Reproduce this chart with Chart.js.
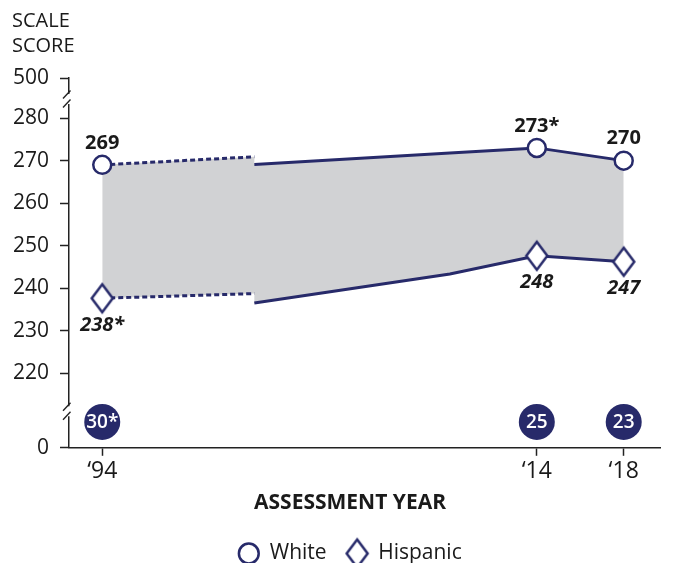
<!DOCTYPE html>
<html><head><meta charset="utf-8">
<script src="https://cdn.jsdelivr.net/npm/chart.js@4.4.0/dist/chart.umd.min.js"></script>
<style>html,body{margin:0;padding:0;background:#fff}</style>
</head><body>
<canvas id="c" width="678" height="569"></canvas>
<script>
// ---------- data ----------
const labeledYears = [1994, 2014, 2018];
const yearTickLabels = ['\u201894', '\u201814', '\u201818'];
// 1994 and 2001 (accommodations not permitted, dashed)
const earlyYears = [1994, 2001];
const whiteEarly = [269, 270.9];
const hispanicEarly = [237.6, 238.7];
// 2001 onward (accommodations permitted, solid)
const lateYears = [2001, 2010, 2014, 2018];
const whiteLate = [269.1, 271.8, 273, 270];
const hispanicLate = [236.5, 243.3, 247.6, 246.2];
const whiteLabels = ['269', '273*', '270'];
const hispanicLabels = ['238*', '248', '247'];
const gapYears = [1994, 2014, 2018];
const gapLabels = ['30*', '25', '23'];
const yTickValues = [220, 230, 240, 250, 260, 270, 280];
const yTickLabels = ['0', '220', '230', '240', '250', '260', '270', '280', '500'];

// ---------- scale settings ----------
const Y_MIN = 202.4, Y_MAX = 289.45;   // axis break: bottom shows 0, top shows 500
const GAP_ROW = 208.5;
const BREAK_HIGH = 284.5, BREAK_LOW = 211;
const X_MIN = 1992.47, X_MAX = 2019.67;
const NAVY = '#272a6a';
const GRAY = '#d1d2d4';
const FONT = '"Open Sans", "Noto Sans", sans-serif';
const TEXT = '#1a1a1a';

// diamond marker (taller than wide)
const diamond = document.createElement('canvas');
diamond.width = 26; diamond.height = 34;
(function () {
  const g = diamond.getContext('2d');
  g.beginPath();
  g.moveTo(13, 3); g.lineTo(23.5, 17); g.lineTo(13, 31); g.lineTo(2.5, 17); g.closePath();
  g.fillStyle = '#fff'; g.fill();
  g.lineWidth = 2.5; g.strokeStyle = NAVY; g.lineJoin = 'miter'; g.stroke();
})();

const pts = (xs, ys) => xs.map((x, i) => ({ x: x, y: ys[i] }));
const markerRadius = c => (c.raw && labeledYears.includes(c.raw.x)) ? 9 : 0;

const common = {
  type: 'line', borderColor: NAVY, borderWidth: 3, tension: 0, fill: false,
  pointBorderColor: NAVY, pointBackgroundColor: '#fff', pointBorderWidth: 2.5,
  pointRadius: markerRadius, pointHoverRadius: markerRadius
};
const envelope = {
  type: 'line', showLine: false, pointRadius: 0, pointHoverRadius: 0, borderWidth: 0,
  backgroundColor: GRAY, tension: 0
};

const datasets = [
  Object.assign({}, common, { label: 'White (early)', data: pts(earlyYears, whiteEarly), borderDash: [5, 3],
    pointStyle: 'circle', valueLabels: whiteLabels, labelOffset: -22, labelFont: 'bold 20px ' + FONT }),
  Object.assign({}, common, { label: 'Hispanic (early)', data: pts(earlyYears, hispanicEarly), borderDash: [5, 3],
    pointStyle: diamond, valueLabels: hispanicLabels, labelOffset: 27, labelFont: 'italic bold 20px ' + FONT }),
  Object.assign({}, common, { label: 'White', data: pts(lateYears, whiteLate),
    pointStyle: 'circle', valueLabels: whiteLabels, labelOffset: -22, labelFont: 'bold 20px ' + FONT }),
  Object.assign({}, common, { label: 'Hispanic', data: pts(lateYears, hispanicLate),
    pointStyle: diamond, valueLabels: hispanicLabels, labelOffset: 27, labelFont: 'italic bold 20px ' + FONT }),
  { type: 'line', label: 'Gap', data: gapYears.map(x => ({ x: x, y: GAP_ROW })), showLine: false, fill: false,
    pointRadius: 18, pointHoverRadius: 18, pointBackgroundColor: NAVY, pointBorderWidth: 0, gapText: gapLabels },
  // shaded gap area between the two groups (built from the same arrays)
  Object.assign({}, envelope, { label: 'band-top', data: pts(earlyYears, whiteEarly).concat(pts(lateYears, whiteLate)), fill: { target: 6 } }),
  Object.assign({}, envelope, { label: 'band-bottom', data: pts(earlyYears, hispanicEarly).concat(pts(lateYears, hispanicLate)), fill: false })
];

const labelPlugin = {
  id: 'valueLabels',
  afterDatasetsDraw(chart) {
    const ctx = chart.ctx;
    chart.data.datasets.forEach((ds, i) => {
      const meta = chart.getDatasetMeta(i);
      ds.data.forEach((d, j) => {
        const el = meta.data[j];
        ctx.save();
        ctx.textAlign = 'center'; ctx.textBaseline = 'middle';
        if (ds.gapText) {
          ctx.font = '600 19px ' + FONT; ctx.fillStyle = '#fff';
          ctx.fillText(ds.gapText[j], el.x, el.y + 1);
        } else if (ds.valueLabels) {
          const k = labeledYears.indexOf(d.x);
          if (k >= 0) {
            ctx.font = ds.labelFont; ctx.fillStyle = TEXT;
            ctx.fillText(ds.valueLabels[k], el.x, el.y + ds.labelOffset);
          }
        }
        ctx.restore();
      });
    });
  }
};

const decorPlugin = {
  id: 'decor',
  afterDraw(chart) {
    const ctx = chart.ctx, y = chart.scales.y;
    const ax = chart.chartArea.left;
    ctx.save();
    [BREAK_HIGH, BREAK_LOW].forEach(v => {
      const c = y.getPixelForValue(v);
      ctx.fillStyle = '#fff';
      ctx.fillRect(ax - 3, c - 5, 6, 10);
      ctx.strokeStyle = '#222'; ctx.lineWidth = 1.4;
      [-4.5, 4.5].forEach(o => {
        ctx.beginPath();
        ctx.moveTo(ax - 6, c + o + 4);
        ctx.lineTo(ax + 1.5, c + o - 4);
        ctx.stroke();
      });
    });
    ctx.fillStyle = TEXT; ctx.font = '20px ' + FONT;
    ctx.textAlign = 'left'; ctx.textBaseline = 'alphabetic';
    ctx.fillText('SCALE', 12, 27);
    ctx.fillText('SCORE', 12, 52);
    ctx.restore();
  }
};

new Chart(document.getElementById('c'), {
  type: 'line',
  data: { datasets: datasets },
  options: {
    responsive: false, animation: false,
    layout: { padding: { top: 78, left: 27, right: 5, bottom: 6 } },
    scales: {
      x: {
        type: 'linear', min: X_MIN, max: X_MAX,
        afterBuildTicks: s => { s.ticks = labeledYears.map(v => ({ value: v })); },
        afterFit: s => { s.height = 40; },
        ticks: { callback: (v, i) => yearTickLabels[i], font: { family: FONT, size: 23 }, color: TEXT, padding: 2, autoSkip: false, maxRotation: 0 },
        grid: { drawOnChartArea: false, drawTicks: true, tickLength: 8, tickColor: '#222', tickWidth: 1.5 },
        border: { display: true, color: '#222', width: 1.5 }
      },
      y: {
        type: 'linear', min: Y_MIN, max: Y_MAX,
        afterBuildTicks: s => { s.ticks = [Y_MIN].concat(yTickValues, [Y_MAX]).map(v => ({ value: v })); },
        afterFit: s => { s.width = 42; },
        ticks: { callback: (v, i) => yTickLabels[i], font: { family: FONT, size: 21 }, color: TEXT,
          mirror: true, crossAlign: 'far', padding: -56, autoSkip: false },
        grid: { drawOnChartArea: false, drawTicks: true, tickLength: 9, tickColor: '#222', tickWidth: 1.5 },
        border: { display: true, color: '#222', width: 1.5 }
      }
    },
    plugins: {
      filler: { drawTime: 'beforeDatasetsDraw' },
      tooltip: { enabled: false },
      title: {
        display: true, text: 'ASSESSMENT YEAR', position: 'bottom', weight: 500,
        font: { family: FONT, size: 21, weight: 'bold' }, color: TEXT, padding: { top: 3, bottom: 7 }
      },
      legend: {
        position: 'bottom', weight: 1000, maxHeight: 40,
        labels: {
          usePointStyle: true, boxHeight: 14, padding: 20, color: TEXT,
          font: { family: FONT, size: 21 },
          filter: item => item.datasetIndex === 2 || item.datasetIndex === 3
        }
      }
    }
  },
  plugins: [labelPlugin, decorPlugin]
});
</script>
</body></html>
